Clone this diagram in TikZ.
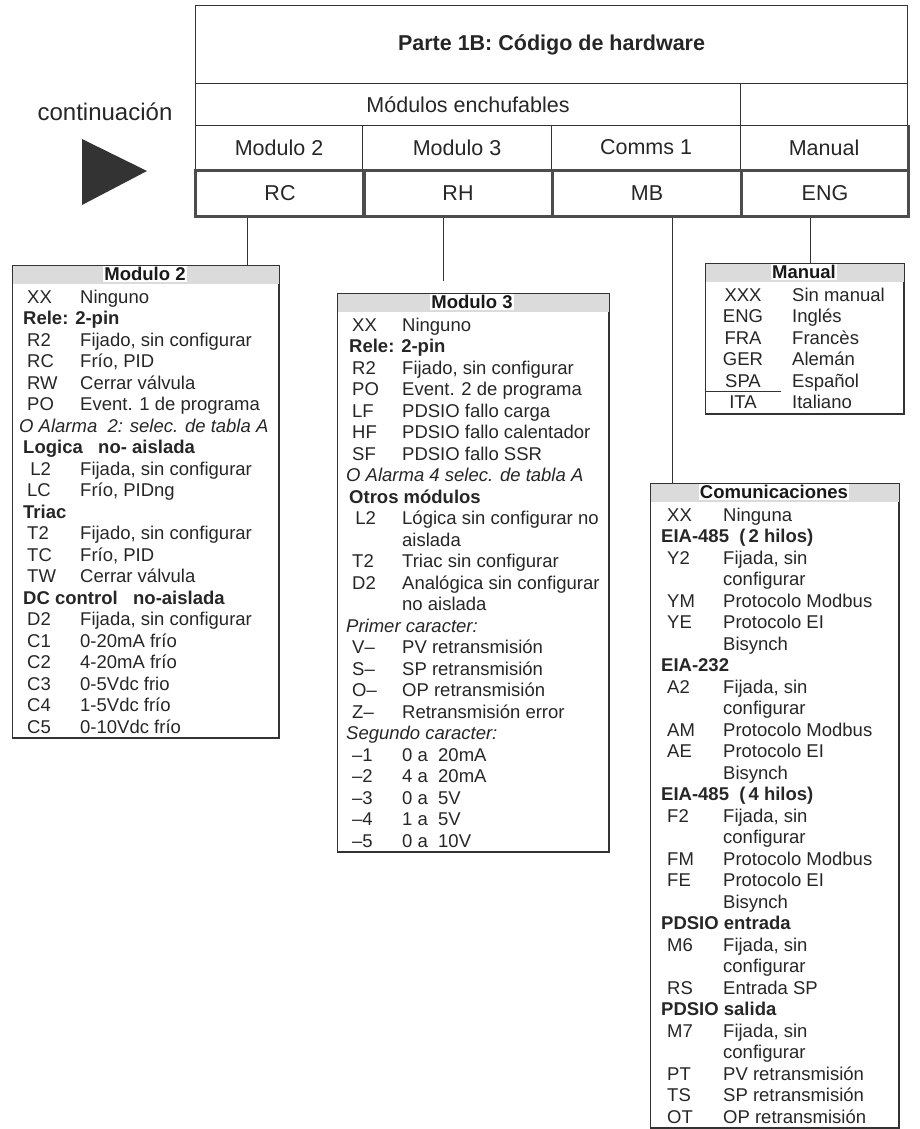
\documentclass[tikz,border=0pt]{standalone}
\usepackage{fontspec}
\setmainfont{Liberation Sans}
\newcommand\fs{\fontsize{18.5}{22}\selectfont}
\newcommand\tfs{\fontsize{21.5}{25}\selectfont}
% one text row of a legend box: name, row index, code, description
\newcommand\rowent[4]{%
  \node[txt] (#1c) at (\bxC,{\bxY+21.5*#2+6.6}) {#3};
  \node[txt] (#1d) at (\bxD,{\bxY+21.5*#2+6.6}) {#4};}
\newcommand\rowhd[3]{\node[txt,font=\fs\bfseries] (#1) at (\bxH,{\bxY+21.5*#2+6.6}) {#3};}
\newcommand\rowit[3]{\node[txt,font=\fs\itshape] (#1) at (\bxI,{\bxY+21.5*#2+6.6}) {#3};}
\newcommand\rowcont[3]{\node[txt] (#1) at (\bxD,{\bxY+21.5*#2+6.6}) {#3};}
\begin{document}
\begin{tikzpicture}[x=1pt,y=-1pt,
  tcell/.style={draw=black!80,line width=1.1pt,inner sep=0pt,font=\tfs,text=black!85},
  codecell/.style={draw=black!70,line width=3pt,inner sep=0pt,minimum height=46pt,font=\tfs,text=black!85},
  legbox/.style={draw=black!80,line width=1pt,inner sep=0pt,anchor=north west},
  stip/.style={fill=black!14},
  hdr/.style={fill=white,inner sep=1.2pt,font=\fs\bfseries,text=black!90},
  txt/.style={anchor=base west,inner sep=0pt,font=\fs,text=black!85},
  link/.style={draw=black!80,line width=1pt}]
\useasboundingbox (0,0) rectangle (920,1129);

% ---------- part 1B header table ----------
\node[tcell,minimum width=712pt,minimum height=78pt,anchor=north west] (title) at (195,5)
  {\bfseries Parte 1B: Código de hardware};
\node[tcell,minimum width=545pt,minimum height=42pt,anchor=north west] (plug) at (195,83)
  {Módulos enchufables};
\node[tcell,minimum width=167pt,minimum height=42pt,anchor=north west] (blank) at (740,83) {};
\node[tcell,minimum width=167pt,minimum height=44pt,anchor=north west] (hm2) at (195,125) {Modulo 2};
\node[tcell,minimum width=189pt,minimum height=44pt,anchor=north west] (hm3) at (362,125) {Modulo 3};
\node[tcell,minimum width=189pt,minimum height=44pt,anchor=north west] (hcm) at (551,125) {Comms 1};
\node[tcell,minimum width=167pt,minimum height=44pt,anchor=north west] (hman) at (740,125) {Manual};
\draw[black!70,line width=3pt] (hman.north east) -- (hman.south east);
\node[codecell,minimum width=169pt,anchor=north west] (rc) at (194,169) {RC};
\node[codecell,minimum width=189pt,anchor=north west] (rh) at (362,169) {RH};
\node[codecell,minimum width=189pt,anchor=north west] (mb) at (551,169) {MB};
\node[codecell,minimum width=167pt,anchor=north west] (eng) at (740,169) {ENG};

% ---------- continuation marker ----------
\node[font=\fontsize{24}{28}\selectfont,text=black!85] (cont) at (105,112) {continuación};
\fill[black!80] (82,139) -- (82,205) -- (147,171) -- cycle;

% ---------- legend boxes ----------
\node[legbox,minimum width=266pt,minimum height=472pt] (m2) at (12,265) {};
\node[legbox,minimum width=271pt,minimum height=558pt] (m3) at (337,293) {};
\node[legbox,minimum width=198pt,minimum height=150pt] (man) at (705,263) {};
\node[legbox,minimum width=248pt,minimum height=644pt] (com) at (650,483) {};
\fill[stip] (m2.north west) rectangle ([yshift=-19pt]m2.north east);
\fill[stip] (m3.north west) rectangle ([yshift=-19pt]m3.north east);
\fill[stip] (man.north west) rectangle ([yshift=-19pt]man.north east);
\fill[stip] (com.north west) rectangle ([yshift=-19pt]com.north east);
\draw[black!80,line width=1pt] (m2.north west) rectangle (m2.south east);
\draw[black!80,line width=1pt] (m3.north west) rectangle (m3.south east);
\draw[black!80,line width=1pt] (man.north west) rectangle (man.south east);
\draw[black!80,line width=1pt] (com.north west) rectangle (com.south east);

% ---------- connectors ----------
\coordinate (x1) at (247,0);
\coordinate (x2) at (443,0);
\coordinate (x3) at (672,0);
\coordinate (x4) at (810,0);
\coordinate (e2) at (443,281);
\draw[link] (x1 |- rc.south) -- (x1 |- m2.north);
\draw[link] (x2 |- rh.south) -- (e2);
\draw[link] (x3 |- mb.south) -- (x3 |- com.north);
\draw[link] (x4 |- eng.south) -- (x4 |- man.north);

% ---------- Modulo 2 ----------
\node[hdr] (m2h) at (145,274) {Modulo 2};
\def\bxY{275}\def\bxC{27}\def\bxD{80}\def\bxH{23}\def\bxI{19}
\rowent{a1}{1}{XX}{Ninguno}
\rowhd{a2}{2}{Rele: 2-pin}
\rowent{a3}{3}{R2}{Fijado, sin configurar}
\rowent{a4}{4}{RC}{Frío, PID}
\rowent{a5}{5}{RW}{Cerrar válvula}
\rowent{a6}{6}{PO}{Event. 1 de programa}
\rowit{a7}{7}{O Alarma\ \ 2: selec. de tabla A}
\rowhd{a8}{8}{Logica\ \ \ no- aislada}
\rowent{a9}{9}{\,L2}{Fijada, sin configurar}
\rowent{a10}{10}{LC}{Frío, PIDng}
\rowhd{a11}{11}{Triac}
\rowent{a12}{12}{T2}{Fijado, sin configurar}
\rowent{a13}{13}{TC}{Frío, PID}
\rowent{a14}{14}{TW}{Cerrar válvula}
\rowhd{a15}{15}{DC control\ \ \ no-aislada}
\rowent{a16}{16}{D2}{Fijada, sin configurar}
\rowent{a17}{17}{C1}{0-20mA frío}
\rowent{a18}{18}{C2}{4-20mA frío}
\rowent{a19}{19}{C3}{0-5Vdc frio}
\rowent{a20}{20}{C4}{1-5Vdc frío}
\rowent{a21}{21}{C5}{0-10Vdc frío}

% ---------- Modulo 3 ----------
\node[hdr] (m3h) at (472,302) {Modulo 3};
\def\bxY{303}\def\bxC{352}\def\bxD{402}\def\bxH{349}\def\bxI{346}
\rowent{b1}{1}{XX}{Ninguno}
\rowhd{b2}{2}{Rele: 2-pin}
\rowent{b3}{3}{R2}{Fijado, sin configurar}
\rowent{b4}{4}{PO}{Event. 2 de programa}
\rowent{b5}{5}{LF}{PDSIO fallo carga}
\rowent{b6}{6}{HF}{PDSIO fallo calentador}
\rowent{b7}{7}{SF}{PDSIO fallo SSR}
\rowit{b8}{8}{O Alarma 4 selec. de tabla A}
\rowhd{b9}{9}{Otros módulos}
\rowent{b10}{10}{\,L2}{Lógica sin configurar no}
\rowcont{b11}{11}{aislada}
\rowent{b12}{12}{T2}{Triac sin configurar}
\rowent{b13}{13}{D2}{Analógica sin configurar}
\rowcont{b14}{14}{no aislada}
\rowit{b15}{15}{Primer caracter:}
\rowent{b16}{16}{V--}{PV retransmisión}
\rowent{b17}{17}{S--}{SP retransmisión}
\rowent{b18}{18}{O--}{OP retransmisión}
\rowent{b19}{19}{Z--}{Retransmisión error}
\rowit{b20}{20}{Segundo caracter:}
\rowent{b21}{21}{--1}{0 a\ \ 20mA}
\rowent{b22}{22}{--2}{4 a\ \ 20mA}
\rowent{b23}{23}{--3}{0 a\ \ 5V}
\rowent{b24}{24}{--4}{1 a\ \ 5V}
\rowent{b25}{25}{--5}{0 a\ \ 10V}

% ---------- Manual ----------
\node[hdr] (manh) at (804,272) {Manual};
\def\bxY{273}
\foreach \n/\c/\d in {1/XXX/Sin manual,2/ENG/Inglés,3/FRA/Francès,4/GER/Alemán,5/SPA/Español,6/ITA/Italiano}{
  \node[txt,anchor=base] (mc\n) at (743,{\bxY+21.5*\n+6.6}) {\c};
  \node[txt] (md\n) at (792,{\bxY+21.5*\n+6.6}) {\d};
}
\coordinate (sepa) at (705,391);
\coordinate (sepb) at (781,391);
\draw[black!80,line width=1pt] (sepa) -- (sepb);

% ---------- Comunicaciones ----------
\node[hdr] (comh) at (774,492) {Comunicaciones};
\def\bxY{493}\def\bxC{667}\def\bxD{723}\def\bxH{661}\def\bxI{661}
\rowent{c1}{1}{XX}{Ninguna}
\rowhd{c2}{2}{EIA-485\ \ (\,2 hilos)}
\rowent{c3}{3}{Y2}{Fijada, sin}
\rowcont{c4}{4}{configurar}
\rowent{c5}{5}{YM}{Protocolo Modbus}
\rowent{c6}{6}{YE}{Protocolo EI}
\rowcont{c7}{7}{Bisynch}
\rowhd{c8}{8}{EIA-232}
\rowent{c9}{9}{A2}{Fijada, sin}
\rowcont{c10}{10}{configurar}
\rowent{c11}{11}{AM}{Protocolo Modbus}
\rowent{c12}{12}{AE}{Protocolo EI}
\rowcont{c13}{13}{Bisynch}
\rowhd{c14}{14}{EIA-485\ \ (\,4 hilos)}
\rowent{c15}{15}{F2}{Fijada, sin}
\rowcont{c16}{16}{configurar}
\rowent{c17}{17}{FM}{Protocolo Modbus}
\rowent{c18}{18}{FE}{Protocolo EI}
\rowcont{c19}{19}{Bisynch}
\rowhd{c20}{20}{PDSIO entrada}
\rowent{c21}{21}{M6}{Fijada, sin}
\rowcont{c22}{22}{configurar}
\rowent{c23}{23}{RS}{Entrada SP}
\rowhd{c24}{24}{PDSIO salida}
\rowent{c25}{25}{M7}{Fijada, sin}
\rowcont{c26}{26}{configurar}
\rowent{c27}{27}{PT}{PV retransmisión}
\rowent{c28}{28}{TS}{SP retransmisión}
\rowent{c29}{29}{OT}{OP retransmisión}
\end{tikzpicture}
\end{document}
